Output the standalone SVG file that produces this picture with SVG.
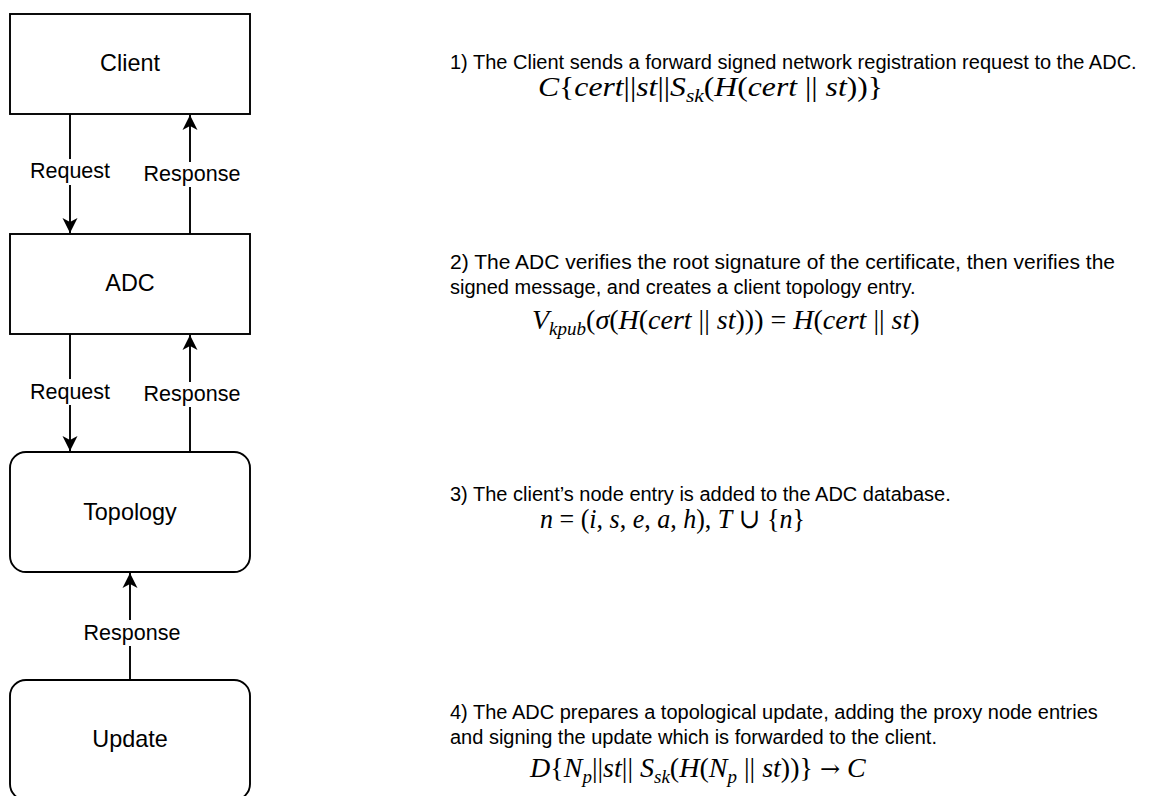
<svg xmlns="http://www.w3.org/2000/svg" width="1150" height="796" viewBox="0 0 1150 796">
  <style>
    .box { fill: #ffffff; stroke: #000000; stroke-width: 1.9; }
    .wire { fill: none; stroke: #000000; stroke-width: 1.9; }
    .node-label { font-family: "Liberation Sans", Arial, sans-serif; font-size: 23.4px; fill: #000000; text-anchor: middle; }
    .edge-label { font-family: "Liberation Sans", Arial, sans-serif; font-size: 21.5px; fill: #000000; text-anchor: middle; }
    .edge-bg { fill: #ffffff; }
    .desc { font-family: "Liberation Sans", Arial, sans-serif; font-size: 20px; fill: #000000; }
    .math { font-family: "Liberation Serif", "DejaVu Serif", serif; font-size: 28px; fill: #000000; }
    .v { font-style: italic; }
    .sub { font-size: 19px; }
    .op { font-family: "DejaVu Serif", serif; font-size: 24px; }
  </style>
  <defs>
    <marker id="arrow" viewBox="0 0 16 16" refX="15" refY="8" markerWidth="16" markerHeight="16" markerUnits="userSpaceOnUse" orient="auto">
      <path d="M15,8 L0,0.5 L4,8 L0,15.5 Z" fill="#000000"/>
    </marker>
  </defs>

  <!-- nodes -->
  <g id="client">
    <rect class="box" x="10" y="14" width="240" height="100"/>
    <text class="node-label" x="130" y="71">Client</text>
  </g>
  <g id="adc">
    <rect class="box" x="10" y="234" width="240" height="100"/>
    <text class="node-label" x="130" y="291">ADC</text>
  </g>
  <g id="topology">
    <rect class="box" x="10" y="452" width="240" height="120" rx="16" ry="16"/>
    <text class="node-label" x="130" y="520">Topology</text>
  </g>
  <g id="update">
    <rect class="box" x="10" y="680" width="240" height="120" rx="16" ry="16"/>
    <text class="node-label" x="130" y="747">Update</text>
  </g>

  <!-- connectors -->
  <g id="connectors">
    <line class="wire" x1="70" y1="114" x2="70" y2="233" marker-end="url(#arrow)"/>
    <line class="wire" x1="190" y1="234" x2="190" y2="115" marker-end="url(#arrow)"/>
    <line class="wire" x1="70" y1="334" x2="70" y2="451" marker-end="url(#arrow)"/>
    <line class="wire" x1="190" y1="452" x2="190" y2="335" marker-end="url(#arrow)"/>
    <line class="wire" x1="130" y1="680" x2="130" y2="573" marker-end="url(#arrow)"/>

    <rect class="edge-bg" x="28" y="159" width="84" height="26"/>
    <text class="edge-label" x="70" y="178">Request</text>
    <rect class="edge-bg" x="142" y="162" width="100" height="25"/>
    <text class="edge-label" x="192" y="181">Response</text>

    <rect class="edge-bg" x="28" y="379" width="84" height="26"/>
    <text class="edge-label" x="70" y="399">Request</text>
    <rect class="edge-bg" x="142" y="382" width="100" height="25"/>
    <text class="edge-label" x="192" y="401">Response</text>

    <rect class="edge-bg" x="82" y="620" width="100" height="26"/>
    <text class="edge-label" x="132" y="640">Response</text>
  </g>

  <!-- step descriptions -->
  <g id="step1">
    <text class="desc" x="450" y="69">1) The Client sends a forward signed network registration request to the ADC.</text>
    <text class="math" x="538" y="96" textLength="345" lengthAdjust="spacingAndGlyphs"><tspan class="v">C</tspan>{<tspan class="v">cert</tspan>||<tspan class="v">st</tspan>||<tspan class="v">S</tspan><tspan class="v sub" dy="6">sk</tspan><tspan dy="-6">(</tspan><tspan class="v">H</tspan>(<tspan class="v">cert</tspan> || <tspan class="v">st</tspan>))}</text>
  </g>
  <g id="step2">
    <text class="desc" x="450" y="269" textLength="665" lengthAdjust="spacingAndGlyphs">2) The ADC verifies the root signature of the certificate, then verifies the</text>
    <text class="desc" x="450" y="294">signed message, and creates a client topology entry.</text>
    <text class="math" x="532" y="329"><tspan class="v">V</tspan><tspan class="v sub" dy="6">kpub</tspan><tspan dy="-6">(</tspan><tspan class="v">σ</tspan>(<tspan class="v">H</tspan>(<tspan class="v">cert</tspan> || <tspan class="v">st</tspan>))) = <tspan class="v">H</tspan>(<tspan class="v">cert</tspan> || <tspan class="v">st</tspan>)</text>
  </g>
  <g id="step3">
    <text class="desc" x="450" y="501">3) The client’s node entry is added to the ADC database.</text>
    <text class="math" x="540" y="528" textLength="265" lengthAdjust="spacingAndGlyphs"><tspan class="v">n</tspan> = (<tspan class="v">i</tspan>, <tspan class="v">s</tspan>, <tspan class="v">e</tspan>, <tspan class="v">a</tspan>, <tspan class="v">h</tspan>), <tspan class="v">T</tspan> ∪ {<tspan class="v">n</tspan>}</text>
  </g>
  <g id="step4">
    <text class="desc" x="450" y="719">4) The ADC prepares a topological update, adding the proxy node entries</text>
    <text class="desc" x="450" y="744">and signing the update which is forwarded to the client.</text>
    <text class="math" x="530" y="777"><tspan class="v">D</tspan>{<tspan class="v">N</tspan><tspan class="v sub" dy="6">p</tspan><tspan dy="-6">||</tspan><tspan class="v">st</tspan>|| <tspan class="v">S</tspan><tspan class="v sub" dy="6">sk</tspan><tspan dy="-6">(</tspan><tspan class="v">H</tspan>(<tspan class="v">N</tspan><tspan class="v sub" dy="6">p</tspan><tspan dy="-6"> || </tspan><tspan class="v">st</tspan>))} <tspan class="op">→</tspan> <tspan class="v">C</tspan></text>
  </g>
</svg>
